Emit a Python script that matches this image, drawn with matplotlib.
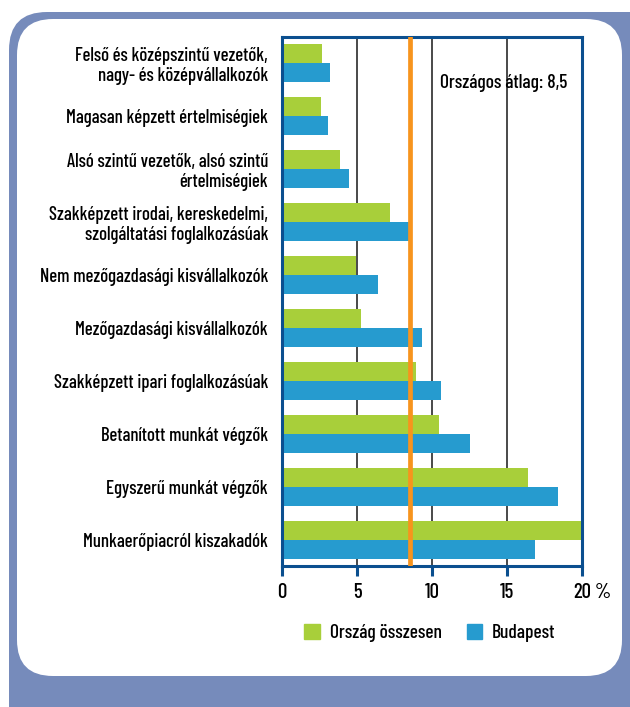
import numpy as np
import matplotlib
matplotlib.use('Agg')
import matplotlib.pyplot as plt
from matplotlib.patches import FancyBboxPatch, Patch

plt.rcParams['font.family'] = ['Barlow Condensed', 'Roboto Condensed', 'DejaVu Sans']
plt.rcParams['font.weight'] = 'medium'

# occupational groups, top to bottom
categories = [
    'Felső és középszintű vezetők,\nnagy- és középvállalkozók',
    'Magasan képzett értelmiségiek',
    'Alsó szintű vezetők, alsó szintű\nértelmiségiek',
    'Szakképzett irodai, kereskedelmi,\nszolgáltatási foglalkozásúak',
    'Nem mezőgazdasági kisvállalkozók',
    'Mezőgazdasági kisvállalkozók',
    'Szakképzett ipari foglalkozásúak',
    'Betanított munkát végzők',
    'Egyszerű munkát végzők',
    'Munkaerőpiacról kiszakadók',
]
orszag = [2.65, 2.6, 3.87, 7.2, 4.93, 5.27, 8.93, 10.47, 16.4, 20.0]
budapest = [3.2, 3.07, 4.47, 8.53, 6.4, 9.33, 10.6, 12.53, 18.4, 16.87]
atlag = 8.5
xticks = [0, 5, 10, 15, 20]

green = '#a8cf3a'
blue = '#269bcf'
navy = '#0b4f8f'
frame = '#768bbb'

fig = plt.figure(figsize=(6.3, 7.07), dpi=100)

# rounded frame drawn in pixel units
bg = fig.add_axes([0, 0, 1, 1], zorder=-5)
bg.set_xlim(0, 630)
bg.set_ylim(707, 0)
bg.axis('off')
bg.add_patch(FancyBboxPatch((9, 12), 660, 740, boxstyle='round,pad=0,rounding_size=38',
                            fc=frame, ec='none'))
bg.add_patch(FancyBboxPatch((17, 19), 605, 657, boxstyle='round,pad=0,rounding_size=36',
                            fc='white', ec='none'))

ax = fig.add_axes([282/630, 1-566/707, 300/630, 529/707])
ax.patch.set_alpha(0)
y = np.arange(len(categories))
h = 0.36
ax.barh(y - h/2, orszag, height=h, color=green, zorder=2)
ax.barh(y + h/2, budapest, height=h, color=blue, zorder=2)

for t in xticks[1:-1]:
    ax.axvline(t, color='#3a3a3a', lw=1.3, zorder=1)
ax.axvline(atlag, color='#f7941d', lw=3.4, zorder=3)
ax.text(10.5, 0.37, 'Országos átlag: 8,5', fontsize=14, va='center', ha='left', zorder=4)

ax.set_xlim(0, 20)
ax.set_ylim(len(categories) - 0.5, -0.5)
ax.set_yticks(y)
ax.set_yticklabels(categories, fontsize=13.5, linespacing=1.1)
ax.tick_params(axis='y', length=0, pad=10)
ax.set_xticks(xticks)
ax.set_xticklabels([str(t) for t in xticks], fontsize=15)
ax.tick_params(axis='x', length=7, width=2.2, color=navy, pad=5)
ax.annotate('%', xy=(20, 0), xycoords=('data', 'axes fraction'), xytext=(9, -12),
            textcoords='offset points', fontsize=15, ha='left', va='top')
for s in ax.spines.values():
    s.set_color(navy)
    s.set_linewidth(2.2)

handles = [Patch(color=green, label='Ország összesen'), Patch(color=blue, label='Budapest')]
fig.legend(handles=handles, loc='center', bbox_to_anchor=(430/630, 1-633/707), ncol=2,
           frameon=False, fontsize=14, handlelength=0.8, handleheight=0.8,
           handletextpad=0.5, columnspacing=1.3)

fig.savefig('out.png', dpi=100)
